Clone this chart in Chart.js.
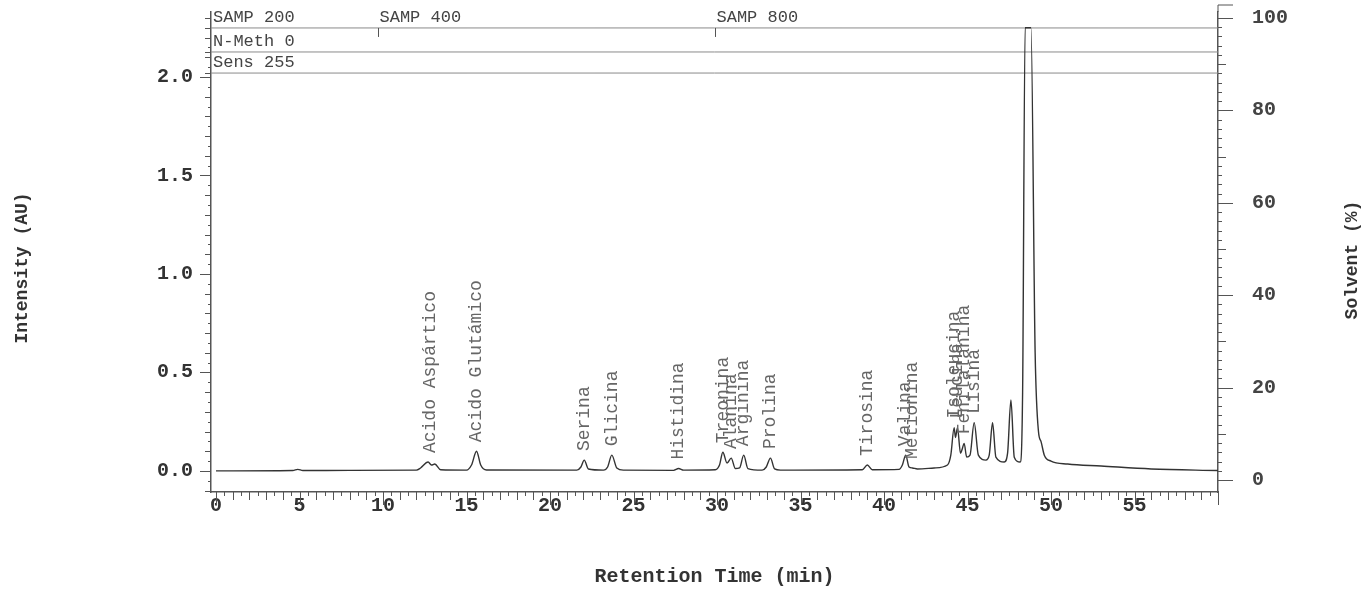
<!DOCTYPE html>
<html>
<head>
<meta charset="utf-8">
<script src="https://cdn.jsdelivr.net/npm/chart.js@4.4.1/dist/chart.umd.min.js"></script>
<style>
  html, body { margin: 0; padding: 0; background: #fff; overflow: hidden; }
  canvas { display: block; }
</style>
</head>
<body>
<canvas id="chromatogram" width="1368" height="590"></canvas>
<script>
// chromatogram trace: [retention time (min), intensity (AU)]
const trace = [
  [0, 0.0], [4.6, 0.002], [4.9, 0.008], [5.2, 0.002], [8, 0.003], [12.0, 0.004],
  [12.25, 0.015], [12.7, 0.045], [12.9, 0.03], [13.1, 0.035], [13.45, 0.006],
  [15.0, 0.004], [15.3, 0.03], [15.6, 0.10], [15.85, 0.03], [16.2, 0.005],
  [21.6, 0.004], [21.85, 0.02], [22.05, 0.055], [22.3, 0.01], [23.2, 0.004],
  [23.45, 0.02], [23.7, 0.08], [24.0, 0.015], [24.4, 0.004], [27.4, 0.003],
  [27.7, 0.012], [28.0, 0.004], [29.9, 0.006], [30.15, 0.03], [30.35, 0.095],
  [30.6, 0.04], [30.85, 0.065], [31.1, 0.012], [31.35, 0.015], [31.6, 0.08],
  [31.85, 0.012], [32.7, 0.004], [32.95, 0.02], [33.2, 0.065], [33.45, 0.01],
  [33.8, 0.004], [38.7, 0.006], [39.0, 0.03], [39.3, 0.006], [40.9, 0.008],
  [41.1, 0.03], [41.3, 0.08], [41.5, 0.02], [41.7, 0.015], [42.0, 0.01],
  [43.0, 0.015], [43.8, 0.03], [44.0, 0.08], [44.2, 0.22], [44.28, 0.17],
  [44.4, 0.22], [44.58, 0.09], [44.68, 0.11], [44.8, 0.14], [44.95, 0.07],
  [45.15, 0.08], [45.4, 0.245], [45.65, 0.08], [46.1, 0.055], [46.3, 0.08],
  [46.5, 0.245], [46.7, 0.07], [47.2, 0.045], [47.4, 0.09], [47.6, 0.36],
  [47.8, 0.07], [48.15, 0.045], [48.3, 0.4], [48.45, 2.25], [48.8, 2.25],
  [49.05, 0.6], [49.25, 0.2], [49.4, 0.15], [49.6, 0.08], [50.0, 0.05],
  [51, 0.035], [53, 0.025], [56, 0.01], [60, 0.002]
];

const peakNames = ['Acido Aspártico', 'Acido Glutámico', 'Serina', 'Glicina', 'Histidina',
  'Treonina', 'Alanina', 'Arginina', 'Prolina', 'Tirosina', 'Valina', 'Metionina',
  'Isoleucina', 'Leucina', 'Fenilalanina', 'Lisina'];
const peakTimes = [12.8, 15.6, 22.05, 23.7, 27.7, 30.35, 30.85, 31.6, 33.2, 39.0, 41.3, 41.7,
  44.2, 44.4, 44.8, 45.4];
const peakApex = [0.045, 0.10, 0.055, 0.08, 0.012, 0.095, 0.065, 0.08, 0.065, 0.03, 0.08, 0.015,
  0.22, 0.22, 0.14, 0.245];

// event rows printed at the top of the trace
const eventRowLevels = [2.249, 2.127, 2.02];
const eventLabels = ['SAMP 200', 'SAMP 400', 'SAMP 800', 'N-Meth 0', 'Sens 255'];
const eventTimes = [0, 9.7, 29.9, 0, 0];
const eventRow = [0, 0, 0, 1, 2];

const xTicks = [0, 5, 10, 15, 20, 25, 30, 35, 40, 45, 50, 55];
const yTicks = [0, 0.5, 1.0, 1.5, 2.0];
const solventTicks = [0, 20, 40, 60, 80, 100];

const MONO = '"Liberation Mono", "DejaVu Sans Mono", monospace';

const decor = {
  id: 'decor',
  afterDatasetsDraw(chart) {
    const { ctx, chartArea: a, scales: { x, y, y2 } } = chart;
    const seg = (x1, y1, x2, y2_) => { ctx.beginPath(); ctx.moveTo(x1, y1); ctx.lineTo(x2, y2_); ctx.stroke(); };
    ctx.save();
    ctx.strokeStyle = '#555';
    ctx.lineWidth = 1;

    // x ticks every 0.5 min
    for (let i = 0; i <= 120; i++) {
      const px = Math.round(x.getPixelForValue(i / 2)) + 0.5;
      const len = i % 10 === 0 ? 13 : i % 2 === 0 ? 8 : 4;
      seg(px, a.bottom, px, a.bottom + len);
    }
    // left ticks every 0.05 AU
    for (let i = -2; i <= 46; i++) {
      const py = Math.round(y.getPixelForValue(i * 0.05)) + 0.5;
      const len = i % 10 === 0 ? 11 : i % 2 === 0 ? 6 : 3;
      seg(a.left - len, py, a.left, py);
    }
    // right ticks every 2 %, axis runs a little above the plot
    seg(a.right, a.top - 7, a.right, a.top);
    seg(a.right, a.top - 7, a.right + 15, a.top - 7);
    for (let v = 0; v <= 100; v += 2) {
      const py = Math.round(y2.getPixelForValue(v)) + 0.5;
      const len = v % 20 === 0 ? 15 : v % 10 === 0 ? 8 : 4;
      seg(a.right, py, a.right + len, py);
    }

    // event rows
    ctx.fillStyle = '#444';
    ctx.font = '17px ' + MONO;
    ctx.textAlign = 'left';
    ctx.textBaseline = 'bottom';
    eventLabels.forEach((lab, i) => {
      const py = y.getPixelForValue(eventRowLevels[eventRow[i]]);
      seg(a.left - 6, Math.round(py) + 0.5, a.left, Math.round(py) + 0.5);
      let px = a.left + 1;
      if (eventTimes[i] > 0) {
        px = Math.round(x.getPixelForValue(eventTimes[i])) + 0.5;
        seg(px, py, px, py + 9);
      }
      ctx.fillText(lab, px + 1, py - 2);
    });

    // peak names
    ctx.fillStyle = '#666';
    ctx.font = '18px ' + MONO;
    ctx.textBaseline = 'middle';
    peakNames.forEach((name, i) => {
      const px = x.getPixelForValue(peakTimes[i]);
      const py = y.getPixelForValue(peakApex[i]) - 9;
      ctx.save();
      ctx.translate(px, py);
      ctx.rotate(-Math.PI / 2);
      ctx.fillText(name, 0, 0);
      ctx.restore();
    });

    // vertical axis titles
    ctx.fillStyle = '#333';
    ctx.font = 'bold 18px ' + MONO;
    ctx.textAlign = 'center';
    const mid = (a.top + a.bottom) / 2;
    [[22, mid + 16, 'Intensity (AU)'], [1352, mid + 8, 'Solvent (%)']].forEach(([tx, ty, txt]) => {
      ctx.save();
      ctx.translate(tx, ty);
      ctx.rotate(-Math.PI / 2);
      ctx.fillText(txt, 0, 0);
      ctx.restore();
    });
    ctx.restore();
  }
};

const tickFont = { family: MONO, size: 20, weight: 'bold' };

// keep the plot box fixed: no extra label overhang padding
const fixVertical = w => s => { s.width = w; s.paddingTop = 0; s.paddingBottom = 0; };

new Chart(document.getElementById('chromatogram'), {
  type: 'line',
  data: {
    datasets: [
      {
        data: trace.map(([t, v]) => ({ x: t, y: v })),
        borderColor: '#333',
        borderWidth: 1.4,
        pointRadius: 0,
        cubicInterpolationMode: 'monotone',
        yAxisID: 'y'
      },
      ...eventRowLevels.map(level => ({
        data: [{ x: -0.3, y: level }, { x: 60, y: level }],
        borderColor: '#8a8a8a',
        borderWidth: 1,
        pointRadius: 0,
        yAxisID: 'y'
      }))
    ]
  },
  options: {
    responsive: false,
    animation: false,
    layout: { padding: { top: 12, left: 0, right: 0, bottom: 0 } },
    plugins: { legend: { display: false }, tooltip: { enabled: false } },
    scales: {
      x: {
        type: 'linear',
        min: -0.3,
        max: 60,
        afterBuildTicks: s => { s.ticks = xTicks.map(v => ({ value: v })); },
        afterFit: s => { s.height = 98; s.paddingLeft = 0; s.paddingRight = 0; },
        grid: { display: false, drawTicks: false },
        border: { color: '#555', width: 1.5 },
        ticks: { font: tickFont, color: '#333', padding: 2, maxRotation: 0, autoSkip: false },
        title: { display: true, text: 'Retention Time (min)', color: '#333',
          font: { family: MONO, size: 20, weight: 'bold' }, padding: { top: 0, bottom: 1 } }
      },
      y: {
        position: 'left',
        min: -0.107,
        max: 2.33,
        afterBuildTicks: s => { s.ticks = yTicks.map(v => ({ value: v })); },
        afterFit: fixVertical(211),
        grid: { display: false, drawTicks: false },
        border: { color: '#555', width: 1.5 },
        ticks: { font: tickFont, color: '#333', padding: 18, callback: v => v.toFixed(1) }
      },
      y2: {
        position: 'right',
        min: -2.6,
        max: 101.3,
        afterBuildTicks: s => { s.ticks = solventTicks.map(v => ({ value: v })); },
        afterFit: fixVertical(150),
        grid: { display: false, drawTicks: false },
        border: { color: '#555', width: 1.5 },
        ticks: { font: tickFont, color: '#444', padding: 34 }
      }
    }
  },
  plugins: [decor]
});
</script>
</body>
</html>
